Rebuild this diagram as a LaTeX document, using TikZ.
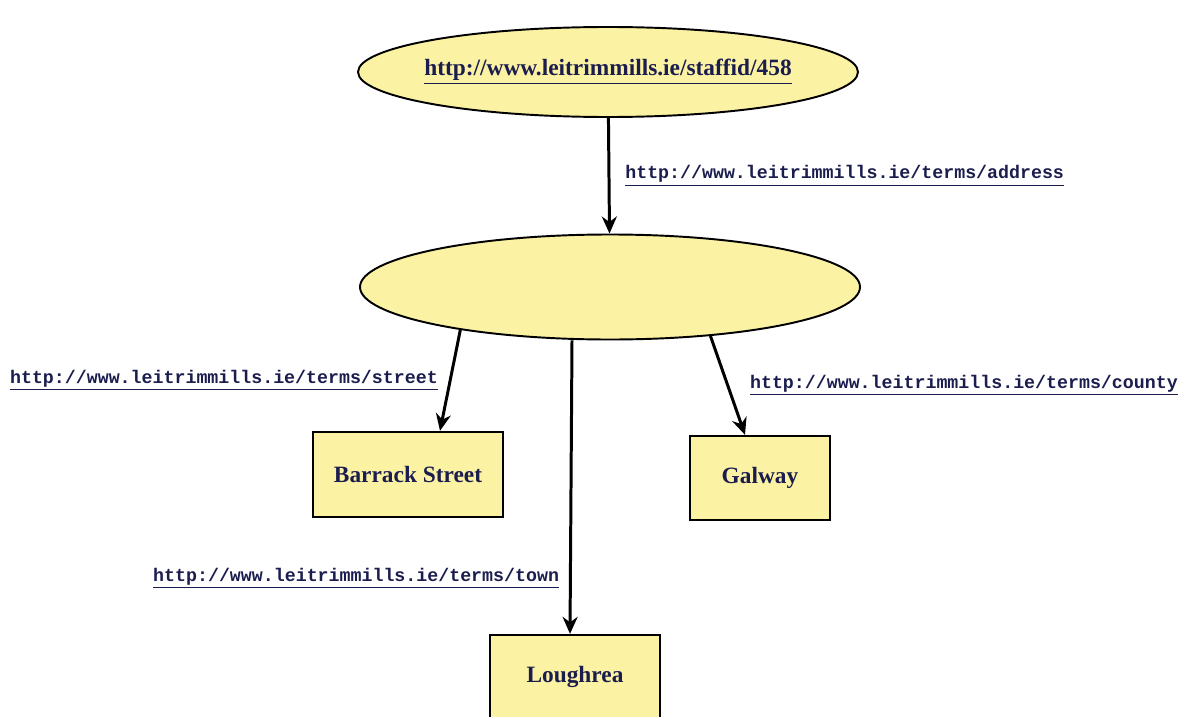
\documentclass[tikz,border=0pt]{standalone}
\usepackage{fontspec}
\setmainfont{Liberation Serif}
\setmonofont{Liberation Mono}
\usepackage{xcolor}
\usetikzlibrary{shapes.geometric,arrows.meta}
\definecolor{nodefill}{HTML}{FBF3A3}
\definecolor{urlblue}{HTML}{1B1D4E}

\begin{document}
\begin{tikzpicture}[
  resource/.style={ellipse,draw,line width=1.1pt,fill=nodefill,minimum width=10cm,inner sep=0pt,
    font=\bfseries\fontsize{13.3}{16}\selectfont,text=urlblue},
  literal/.style={rectangle,draw,line width=1.3pt,fill=nodefill,inner sep=0pt,
    font=\bfseries\fontsize{13.3}{16}\selectfont,text=urlblue},
  link/.style={line width=1.7pt,-{Stealth[length=3.4mm,width=3mm]}},
  prop/.style={font=\ttfamily\bfseries\fontsize{10.4}{12}\selectfont,text=urlblue}
]
\useasboundingbox (0,0) rectangle (23.68,-14.32);
\clip (0,0) rectangle (23.68,-14.32);

% resources
\node[resource,minimum height=1.8cm,inner xsep=-0.18cm] (staff) at (12.16,-1.44) {\underline{http://www.leitrimmills.ie/staffid/458}};
\node[resource,minimum height=2.1cm] (addr) at (12.2,-5.74) {};

% literals
\node[literal,minimum width=3.8cm,minimum height=1.7cm] (street) at (8.16,-9.49) {Barrack Street};
\node[literal,minimum width=2.8cm,minimum height=1.68cm] (county) at (15.2,-9.56) {Galway};
\node[literal,minimum width=3.4cm,minimum height=1.68cm] (town) at (11.5,-13.54) {Loughrea};

% properties
\draw[link] (staff) -- (addr)
  node[prop,pos=0.5,right=0.18cm] {\underline{http://www.leitrimmills.ie/terms/address}};
\draw[link] (addr.196) -- ([xshift=0.64cm]street.north)
  node[prop,midway,left=0.1cm] {\underline{http://www.leitrimmills.ie/terms/street}};
\draw[link] ([xshift=-0.76cm]addr.south) -- ([xshift=-0.1cm]town.north)
  node[prop,pos=0.81,left=0.08cm] {\underline{http://www.leitrimmills.ie/terms/town}};
\draw[link] (addr.-26) -- ([xshift=-0.3cm]county.north)
  node[prop,midway,right=0.3cm] {\underline{http://www.leitrimmills.ie/terms/county}};
\end{tikzpicture}
\end{document}
